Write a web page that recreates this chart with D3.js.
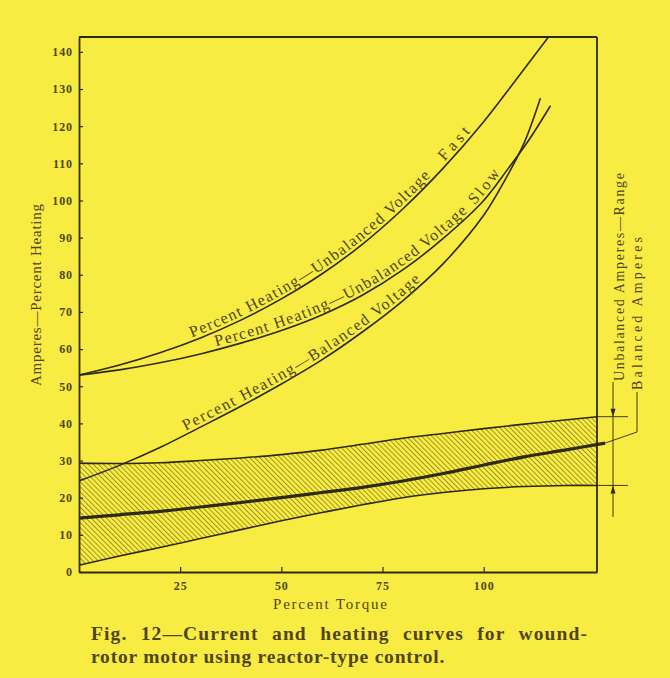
<!DOCTYPE html>
<html>
<head>
<meta charset="utf-8">
<script src="https://cdn.jsdelivr.net/npm/d3@7"></script>
<style>
  body { margin: 0; background: #f8ec42; }
  svg { display: block; }
  text { font-family: "Liberation Serif", "DejaVu Serif", serif; fill: #4f4519; }
</style>
</head>
<body>
<div id="container"></div>
<script>
/* CONSTANTS AND GLOBALS */
const width = 670;
const height = 678;
const plot = { left: 79, right: 597, top: 37, bottom: 572 };
const bg = "#f8ec42";
const ink = "#2e2a10";

/* DATA  ([percent torque, value]) */
const heatFast = [[0, 53], [10, 55.7], [20, 59], [30, 63], [40, 67.8], [50, 73.5], [60, 80.2], [70, 88.2],
  [80, 97.7], [90, 108.7], [100, 121.2], [108, 132.5], [116, 144]];
const heatSlow = [[0, 53], [10, 54.4], [20, 56.3], [30, 58.7], [40, 61.6], [50, 65], [60, 69.2], [70, 74.5],
  [80, 81.3], [90, 89.8], [100, 100], [106, 108.5], [111, 116], [116.5, 125.5]];
const heatBalanced = [[0, 24.5], [10, 28.7], [20, 33.5], [30, 39], [40, 44.6], [50, 50.6], [60, 57.1], [70, 64.6],
  [80, 73], [90, 83], [100, 96], [105, 105], [110, 115.5], [114, 127.5]];
const ampsMax = [[0, 29.3], [10, 29.2], [20, 29.4], [30, 30], [40, 30.7], [50, 31.6], [60, 32.8], [70, 34.4],
  [80, 36], [90, 37.3], [100, 38.6], [110, 39.8], [120, 40.9], [128, 41.8]];
const ampsMin = [[0, 1.8], [10, 4.3], [20, 6.6], [30, 9], [40, 11.4], [50, 13.8], [60, 16], [70, 18.1],
  [80, 20], [90, 21.4], [100, 22.4], [110, 23], [120, 23.3], [128, 23.3]];
const ampsBalanced = [[0, 14.5], [10, 15.4], [20, 16.3], [30, 17.5], [40, 18.7], [50, 20], [60, 21.4], [70, 22.8],
  [80, 24.5], [90, 26.5], [100, 28.8], [110, 31], [120, 32.8], [130, 34.7]];

const yTicks = d3.range(0, 150, 10);
const xTicks = [25, 50, 75, 100];

/* SCALES */
const x = d3.scaleLinear().domain([0, 128]).range([plot.left, plot.right]);
const y = d3.scaleLinear().domain([0, 144]).range([plot.bottom, plot.top]);

const line = d3.line()
  .x(d => x(d[0]))
  .y(d => y(d[1]))
  .curve(d3.curveCatmullRom.alpha(0.5));

const band = d3.area()
  .x(d => x(d[0]))
  .y0((d, i) => y(ampsMin[i][1]))
  .y1(d => y(d[1]))
  .curve(d3.curveCatmullRom.alpha(0.5));

/* SVG */
const svg = d3.select("#container")
  .append("svg")
  .attr("width", width)
  .attr("height", height);

svg.append("rect").attr("width", width).attr("height", height).attr("fill", bg);

const defs = svg.append("defs");
defs.append("clipPath").attr("id", "plotClip")
  .append("rect")
  .attr("x", plot.left).attr("y", plot.top)
  .attr("width", plot.right - plot.left).attr("height", plot.bottom - plot.top);

const hatch = defs.append("pattern")
  .attr("id", "hatch")
  .attr("patternUnits", "userSpaceOnUse")
  .attr("width", 3.6).attr("height", 10)
  .attr("patternTransform", "rotate(-45)");
hatch.append("line")
  .attr("x1", 0).attr("y1", 0).attr("x2", 0).attr("y2", 10)
  .attr("stroke", ink).attr("stroke-width", 0.9);

// hatched range band
svg.append("path")
  .datum(ampsMax)
  .attr("d", band)
  .attr("fill", "url(#hatch)")
  .attr("clip-path", "url(#plotClip)");

svg.append("path").datum(ampsMax).attr("d", line)
  .attr("fill", "none").attr("stroke", ink).attr("stroke-width", 1.6);
svg.append("path").datum(ampsMin).attr("d", line)
  .attr("fill", "none").attr("stroke", ink).attr("stroke-width", 1.6);
svg.append("path").datum(ampsBalanced).attr("d", line)
  .attr("fill", "none").attr("stroke", ink).attr("stroke-width", 3.2);

// heating curves
const curves = [
  { id: "cFast", data: heatFast },
  { id: "cSlow", data: heatSlow },
  { id: "cBal", data: heatBalanced }
];
curves.forEach(c => {
  svg.append("path")
    .datum(c.data)
    .attr("id", c.id)
    .attr("d", line)
    .attr("fill", "none")
    .attr("stroke", ink)
    .attr("stroke-width", 1.6)
    .attr("clip-path", "url(#plotClip)");
});

// AXES
const yAxis = d3.axisLeft(y).tickValues(yTicks).tickSizeInner(-4).tickSizeOuter(0).tickPadding(6);
const xAxis = d3.axisBottom(x).tickValues(xTicks).tickSizeInner(-5).tickSizeOuter(0).tickPadding(9);

const gy = svg.append("g").attr("transform", `translate(${plot.left},0)`).call(yAxis);
const gx = svg.append("g").attr("transform", `translate(0,${plot.bottom})`).call(xAxis);
[gy, gx].forEach(g => {
  g.select(".domain").attr("stroke", ink).attr("stroke-width", 1.8);
  g.selectAll(".tick line").attr("stroke", ink).attr("stroke-width", 1.2);
  g.selectAll(".tick text")
    .attr("fill", "#4f4519")
    .style("font-family", "'Liberation Serif', serif")
    .style("font-weight", "bold")
    .style("font-size", "12px")
    .style("letter-spacing", "0.9px");
});

// frame top and right
svg.append("line").attr("x1", plot.left).attr("x2", plot.right).attr("y1", plot.top).attr("y2", plot.top)
  .attr("stroke", ink).attr("stroke-width", 1.8);
svg.append("line").attr("x1", plot.right).attr("x2", plot.right).attr("y1", plot.top).attr("y2", plot.bottom)
  .attr("stroke", ink).attr("stroke-width", 1.8);

// CURVE LABELS
function lengthAtX(node, px) {
  let lo = 0, hi = node.getTotalLength();
  for (let i = 0; i < 40; i++) {
    const mid = (lo + hi) / 2;
    if (node.getPointAtLength(mid).x < px) lo = mid; else hi = mid;
  }
  return lo;
}

const curveLabels = [
  { id: "cFast", text: "Percent Heating—Unbalanced Voltage", from: 28.2, to: 87.5 },
  { id: "cFast", text: "Fast", from: 91, to: 97.4 },
  { id: "cSlow", text: "Percent Heating—Unbalanced Voltage", from: 34.1, to: 96.6 },
  { id: "cSlow", text: "Slow", from: 98.3, to: 104.8 },
  { id: "cBal", text: "Percent Heating—Balanced Voltage", from: 26.7, to: 85 }
];
curveLabels.forEach(l => {
  const node = document.getElementById(l.id);
  const s = lengthAtX(node, x(l.from));
  const e = lengthAtX(node, x(l.to));
  const t = svg.append("text")
    .attr("dy", -3.5)
    .style("font-size", "16px");
  t.append("textPath")
    .attr("href", "#" + l.id)
    .attr("startOffset", s)
    .text(l.text);
  const natural = t.node().getComputedTextLength();
  const ls = (e - s - natural) / (l.text.length - 1);
  t.style("letter-spacing", ls + "px");
});

// AXIS TITLES
svg.append("text")
  .attr("transform", `translate(41,295) rotate(-90)`)
  .attr("text-anchor", "middle")
  .attr("textLength", 182)
  .attr("lengthAdjust", "spacing")
  .style("font-size", "15px")
  .text("Amperes—Percent Heating");

svg.append("text")
  .attr("x", 330).attr("y", 609)
  .attr("text-anchor", "middle")
  .attr("textLength", 114)
  .attr("lengthAdjust", "spacing")
  .style("font-size", "15px")
  .text("Percent Torque");

// RIGHT-HAND RANGE ANNOTATION
const yHi = y(ampsMax[ampsMax.length - 1][1]);
const yLo = y(ampsMin[ampsMin.length - 1][1]);
const dimX = 613;
const thin = g => g.attr("stroke", ink).attr("stroke-width", 0.9).attr("fill", "none");

svg.append("line").attr("x1", plot.right).attr("x2", 628).attr("y1", yHi).attr("y2", yHi).call(thin);
svg.append("line").attr("x1", plot.right).attr("x2", 628).attr("y1", yLo).attr("y2", yLo).call(thin);
svg.append("line").attr("x1", dimX).attr("x2", dimX).attr("y1", 382).attr("y2", 517).call(thin);
svg.append("path")
  .attr("d", `M${dimX},${yHi} L${dimX - 2.5},${yHi - 8} L${dimX + 2.5},${yHi - 8} Z`)
  .attr("fill", ink);
svg.append("path")
  .attr("d", `M${dimX},${yLo} L${dimX - 2.5},${yLo + 8} L${dimX + 2.5},${yLo + 8} Z`)
  .attr("fill", ink);

const balEnd = ampsBalanced[ampsBalanced.length - 1];
svg.append("path")
  .attr("d", `M${x(balEnd[0])},${y(balEnd[1])} L637,432 L637,392`)
  .call(thin);

svg.append("text")
  .attr("transform", `translate(624,381) rotate(-90)`)
  .attr("textLength", 208)
  .attr("lengthAdjust", "spacing")
  .style("font-size", "14px")
  .text("Unbalanced Amperes—Range");

svg.append("text")
  .attr("transform", `translate(642,390) rotate(-90)`)
  .attr("textLength", 153)
  .attr("lengthAdjust", "spacing")
  .style("font-size", "14px")
  .text("Balanced Amperes");

// CAPTION (first line justified to the plot width with word spacing)
const cap1 = svg.append("text")
  .attr("x", 91).attr("y", 640)
  .style("font-size", "19.5px")
  .style("font-weight", "bold")
  .style("letter-spacing", "1.1px")
  .text("Fig. 12—Current and heating curves for wound-");
const cap1Len = cap1.node().getComputedTextLength();
cap1.style("word-spacing", Math.max(0, (497 - cap1Len) / 6) + "px");

svg.append("text")
  .attr("x", 91).attr("y", 663)
  .style("font-size", "19.5px")
  .style("font-weight", "bold")
  .style("letter-spacing", "0.8px")
  .text("rotor motor using reactor-type control.");
</script>
</body>
</html>
